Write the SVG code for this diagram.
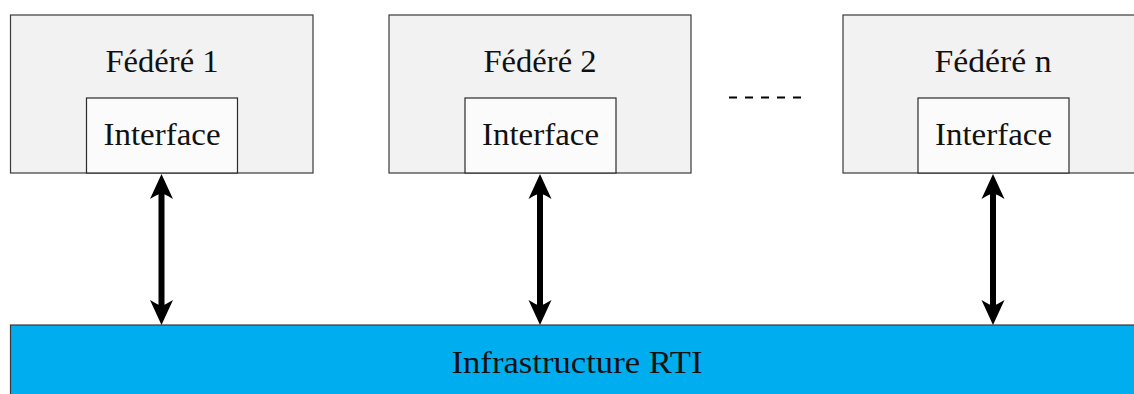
<svg xmlns="http://www.w3.org/2000/svg" width="1134" height="394" viewBox="0 0 1134 394">
<style>
.fed{fill:#f2f2f2;stroke:#3a3a3a;stroke-width:1.2}
.itf{fill:#fbfbfb;stroke:#2a2a2a;stroke-width:1.2}
.rti{fill:#00aeef;stroke:#3a3a3a;stroke-width:1.2}
text{font-family:"Liberation Serif","DejaVu Serif",serif;fill:#111;text-anchor:middle}
.t1{font-size:32px}
.shaft{stroke:#000;stroke-width:6;fill:none}
.head{fill:#000}
</style>
<defs>
<path id="hd" class="head" d="M0,0 L11.5,25 Q5,21 0,19 Q-5,21 -11.5,25 Z"/>
</defs>
<rect width="1134" height="394" fill="#ffffff"/>
<g id="rti">
<rect class="rti" x="10.5" y="325" width="1140" height="80"/>
<text class="t1" x="577" y="373" textLength="251" lengthAdjust="spacingAndGlyphs">Infrastructure RTI</text>
</g>
<g id="federe1">
<rect class="fed" x="10.5" y="15" width="302.5" height="158"/>
<text class="t1" x="162" y="72" textLength="113" lengthAdjust="spacingAndGlyphs">Fédéré 1</text>
<g id="interface1">
<rect class="itf" x="86.5" y="98" width="151" height="75"/>
<text class="t1" x="162" y="145" textLength="117" lengthAdjust="spacingAndGlyphs">Interface</text>
</g>
</g>
<g id="federe2">
<rect class="fed" x="389" y="15" width="302" height="158"/>
<text class="t1" x="540" y="72" textLength="113" lengthAdjust="spacingAndGlyphs">Fédéré 2</text>
<g id="interface2">
<rect class="itf" x="465" y="98" width="151" height="75"/>
<text class="t1" x="540.5" y="145" textLength="117" lengthAdjust="spacingAndGlyphs">Interface</text>
</g>
</g>
<g id="federen">
<rect class="fed" x="843" y="15" width="302" height="158"/>
<text class="t1" x="993" y="72" textLength="117" lengthAdjust="spacingAndGlyphs">Fédéré n</text>
<g id="interfacen">
<rect class="itf" x="918" y="98" width="151" height="75"/>
<text class="t1" x="993.5" y="145" textLength="117" lengthAdjust="spacingAndGlyphs">Interface</text>
</g>
</g>
<g id="ellipsis">
<line x1="729" y1="97.5" x2="801" y2="97.5" stroke="#000" stroke-width="2" stroke-dasharray="8 8"/>
</g>
<g id="connectors">
<line class="shaft" x1="161.5" y1="192" x2="161.5" y2="307"/>
<use href="#hd" transform="translate(161.5,174)"/>
<use href="#hd" transform="translate(161.5,325) scale(1,-1)"/>
<line class="shaft" x1="540" y1="192" x2="540" y2="307"/>
<use href="#hd" transform="translate(540,174)"/>
<use href="#hd" transform="translate(540,325) scale(1,-1)"/>
<line class="shaft" x1="993" y1="192" x2="993" y2="307"/>
<use href="#hd" transform="translate(993,174)"/>
<use href="#hd" transform="translate(993,325) scale(1,-1)"/>
</g>
</svg>
